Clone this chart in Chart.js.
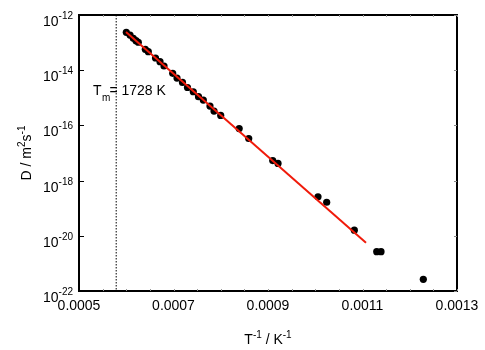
<!DOCTYPE html>
<html>
<head>
<meta charset="utf-8">
<script src="https://cdn.jsdelivr.net/npm/chart.js@4.4.0/dist/chart.umd.min.js"></script>
<style>
  html, body { margin: 0; padding: 0; background: #fff; }
  canvas { display: block; }
</style>
</head>
<body>
<canvas id="chart" width="485" height="350"></canvas>
<script>
// measured points: inverse temperature (1/K) and diffusion coefficient (m^2/s)
const invT = [
  0.0006001, 0.000608, 0.0006149, 0.0006206, 0.0006255, 0.0006403, 0.0006467,
  0.0006619, 0.0006714, 0.0006799, 0.0006983, 0.0007074, 0.000719, 0.0007296,
  0.0007419, 0.0007529, 0.0007631, 0.0007772, 0.0007857, 0.0007999, 0.000839,
  0.0008592, 0.00091, 0.0009212, 0.0010058, 0.0010242, 0.0010827, 0.0011301,
  0.0011392, 0.0012287
];
const diffusivity = [
  2.36e-13, 1.88e-13, 1.43e-13, 1.17e-13, 1.03e-13, 5.7e-14, 4.7e-14,
  2.77e-14, 2.03e-14, 1.42e-14, 7.7e-15, 5.2e-15, 3.6e-15, 2.36e-15,
  1.66e-15, 1.1e-15, 8.3e-16, 5.0e-16, 3.3e-16, 2.29e-16, 7.7e-17,
  3.35e-17, 5.3e-18, 4.2e-18, 2.6e-19, 1.64e-19, 1.6e-20, 2.65e-21,
  2.65e-21, 2.65e-22
];

// Arrhenius fit line end points
const fitInvT = [0.0005995, 0.0011074];
const fitD = [2.42e-13, 5.6e-21];

// melting point marker
const meltT = 1728;
const meltInvT = 1 / meltT;

const xTicks = [0.0005, 0.0007, 0.0009, 0.0011, 0.0013];
const xTickLabels = ["0.0005", "0.0007", "0.0009", "0.0011", "0.0013"];
const yTickExps = [-12, -14, -16, -18, -20, -22];

const FONT = '"Liberation Sans", Arial, Helvetica, sans-serif';

// draws a run of [text, size, rise] pieces left to right, returns width
function drawRuns(ctx, runs, x, y, measureOnly) {
  let cx = x;
  runs.forEach(([txt, size, rise]) => {
    ctx.font = size + "px " + FONT;
    if (!measureOnly) ctx.fillText(txt, cx, y - rise);
    cx += ctx.measureText(txt).width;
  });
  return cx - x;
}

const framePlugin = {
  id: "frame",
  afterDraw(chart) {
    const ctx = chart.ctx;
    const a = chart.chartArea;
    const xs = chart.scales.x;
    const ys = chart.scales.y;
    ctx.save();

    // box
    ctx.strokeStyle = "#000";
    ctx.lineWidth = 2;
    ctx.strokeRect(a.left, a.top, a.right - a.left, a.bottom - a.top);

    // tick marks
    ctx.lineWidth = 1;
    yTickExps.forEach(e => {
      const py = Math.round(ys.getPixelForValue(Math.pow(10, e))) + 0.5;
      ctx.strokeStyle = "#000";
      ctx.beginPath();
      ctx.moveTo(a.left, py); ctx.lineTo(a.left + 5, py);
      ctx.stroke();
      ctx.strokeStyle = "#888";
      ctx.beginPath();
      ctx.moveTo(a.right, py); ctx.lineTo(a.right - 3, py);
      ctx.stroke();
    });
    ctx.strokeStyle = "#999";
    for (let v = 0.00055; v < 0.0013; v += 0.00005) {
      const px = Math.round(xs.getPixelForValue(v)) + 0.5;
      ctx.beginPath();
      ctx.moveTo(px, a.top); ctx.lineTo(px, a.top + 2);
      ctx.moveTo(px, a.bottom); ctx.lineTo(px, a.bottom - 2);
      ctx.stroke();
    }

    ctx.fillStyle = "#000";
    ctx.textBaseline = "alphabetic";

    // x tick labels
    ctx.font = "14px " + FONT;
    ctx.textAlign = "center";
    xTicks.forEach((v, i) => {
      ctx.fillText(xTickLabels[i], xs.getPixelForValue(v), 310);
    });

    // y tick labels 10^n
    ctx.textAlign = "left";
    yTickExps.forEach(e => {
      const py = ys.getPixelForValue(Math.pow(10, e));
      const runs = [["10", 14, 0], [String(e), 10, 7]];
      const w = drawRuns(ctx, runs, 0, 0, true);
      drawRuns(ctx, runs, a.left - 6 - w, py + 11);
    });

    // x axis title
    const xTitle = [["T", 14, 0], ["-1", 10, 6], [" / K", 14, 0], ["-1", 10, 6]];
    const xw = drawRuns(ctx, xTitle, 0, 0, true);
    drawRuns(ctx, xTitle, 268 - xw / 2, 344);

    // y axis title (rotated)
    const yTitle = [["D / m", 14, 0], ["2", 10, 6], ["s", 14, 0], ["-1", 10, 6]];
    const yw = drawRuns(ctx, yTitle, 0, 0, true);
    ctx.save();
    ctx.translate(31, 153);
    ctx.rotate(-Math.PI / 2);
    drawRuns(ctx, yTitle, -yw / 2, 0);
    ctx.restore();

    // melting point label
    drawRuns(ctx, [["T", 14, 0]], 93, 95);
    drawRuns(ctx, [["m", 10, 0]], 102, 101);
    drawRuns(ctx, [["=", 14, 0]], 109.5, 95);
    drawRuns(ctx, [[meltT + " K", 14, 0]], 121.5, 95);

    ctx.restore();
  }
};

new Chart(document.getElementById("chart"), {
  type: "scatter",
  data: {
    datasets: [
      {
        label: "fit",
        data: fitInvT.map((x, i) => ({ x: x, y: fitD[i] })),
        showLine: true,
        borderColor: "#f01a0a",
        borderWidth: 2,
        pointRadius: 0,
        order: 0
      },
      {
        label: "D",
        data: invT.map((x, i) => ({ x: x, y: diffusivity[i] })),
        backgroundColor: "#000",
        borderColor: "#000",
        pointRadius: 3.6,
        borderWidth: 0,
        order: 1
      },
      {
        label: "Tm",
        data: [{ x: meltInvT, y: 1e-12 }, { x: meltInvT, y: 1e-22 }],
        showLine: true,
        borderColor: "#000",
        borderWidth: 1,
        borderDash: [1.5, 1.5],
        pointRadius: 0,
        order: 2
      }
    ]
  },
  options: {
    responsive: false,
    animation: false,
    events: [],
    layout: { padding: { top: 15, right: 28, left: 0, bottom: 0 } },
    plugins: { legend: { display: false }, tooltip: { enabled: false } },
    scales: {
      x: {
        type: "linear",
        min: 0.0005,
        max: 0.0013,
        grid: { display: false },
        border: { display: false },
        ticks: { display: false },
        afterFit(s) { s.height = 59; }
      },
      y: {
        type: "logarithmic",
        min: 1e-22,
        max: 1e-12,
        grid: { display: false },
        border: { display: false },
        ticks: { display: false },
        afterFit(s) { s.width = 79; }
      }
    }
  },
  plugins: [framePlugin]
});
</script>
</body>
</html>
